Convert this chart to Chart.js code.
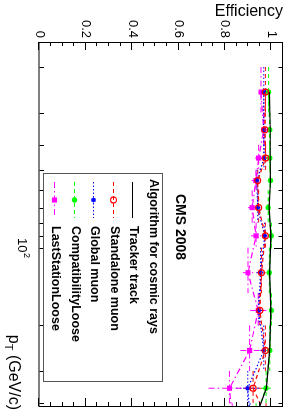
<!DOCTYPE html>
<html lang="en">
<head>
<meta charset="UTF-8">
<title>Efficiency vs pT</title>
<script src="https://cdn.jsdelivr.net/npm/chart.js"></script>
<style>
  html, body { margin: 0; padding: 0; background: #fff; overflow: hidden; }
  /* the ROOT canvas is drawn landscape and turned a quarter clockwise */
  #wrap { position: absolute; left: 0; top: 0; width: 415px; height: 298px;
          transform-origin: 0 0; transform: translateX(298px) rotate(90deg); }
</style>
</head>
<body>
<div id="wrap"><canvas id="effChart" width="415" height="298"></canvas></div>
<script>
// pT bins (GeV/c); the last bin lies just past the frame
const ptCenters = [25, 35, 45, 55, 70, 90, 125, 175, 250, 350, 450];
const ptLow     = [20, 30, 40, 50, 60, 80, 100, 150, 200, 300, 400];
const ptHigh    = [30, 40, 50, 60, 80, 100, 150, 200, 300, 400, 500];

const trackerEff    = [0.991, 0.995, 0.995, 0.996, 0.990, 0.998, 0.992, 0.998, 0.992, 0.978, 0.934];
const standaloneEff = [0.974, 0.972, 0.975, 0.941, 0.945, 0.974, 0.957, 0.950, 0.974, 0.921, 0.977];
const globalEff     = [0.967, 0.967, 0.968, 0.937, 0.941, 0.971, 0.953, 0.945, 0.967, 0.898, 0.908];
const compatEff     = [0.988, 0.993, 0.993, 0.996, 0.986, 1.000, 0.991, 1.000, 0.993, 0.977, 0.934];
const lastStEff     = [0.955, 0.967, 0.945, 0.933, 0.917, 0.934, 0.899, 0.943, 0.906, 0.819, 0.831];

const standaloneErr = [0.008, 0.010, 0.012, 0.015, 0.015, 0.012, 0.018, 0.020, 0.022, 0.040, 0.05];
const globalErr     = [0.008, 0.010, 0.012, 0.015, 0.015, 0.012, 0.018, 0.020, 0.025, 0.050, 0.06];
const compatErr     = [0.004, 0.005, 0.006, 0.006, 0.007, 0.004, 0.008, 0.005, 0.010, 0.020, 0.03];
const lastStErr     = [0.010, 0.012, 0.015, 0.018, 0.018, 0.022, 0.022, 0.035, 0.040, 0.090, 0.10];

const effTickLabels = ['0', '0.2', '0.4', '0.6', '0.8', '1'];
const ptMinorTicks  = [20, 30, 40, 50, 60, 70, 80, 90, 200, 300, 400];
const ptMajorTicks  = [100];

const FONT = "'Liberation Sans', Arial, Helvetica, sans-serif";

function pts(vals) {
    return vals.map((v, i) => ({ x: ptCenters[i], y: v }));
}

function drawMarker(ctx, style, x, y, r, color) {
    ctx.save();
    ctx.setLineDash([]);
    ctx.strokeStyle = color;
    ctx.fillStyle = color;
    ctx.lineWidth = 1.2;
    ctx.beginPath();
    if (style === 'rect') {
        const s = r * Math.SQRT1_2;
        ctx.fillRect(x - s, y - s, 2 * s, 2 * s);
    } else if (style === 'open') {
        ctx.arc(x, y, r, 0, Math.PI * 2);
        ctx.stroke();
    } else if (style === 'star') {
        ctx.moveTo(x - r, y); ctx.lineTo(x + r, y);
        ctx.moveTo(x, y - r); ctx.lineTo(x, y + r);
        const d = r * Math.SQRT1_2;
        ctx.moveTo(x - d, y - d); ctx.lineTo(x + d, y + d);
        ctx.moveTo(x - d, y + d); ctx.lineTo(x + d, y - d);
        ctx.stroke();
    } else if (style === 'circle') {
        ctx.arc(x, y, r, 0, Math.PI * 2);
        ctx.fill();
    }
    ctx.restore();
}

// error bars: bin width along pT, statistical error along efficiency
const errorBars = {
    id: 'errorBars',
    beforeDatasetsDraw(chart) {
        const { ctx, chartArea, scales } = chart;
        ctx.save();
        ctx.beginPath();
        ctx.rect(chartArea.left, chartArea.top, chartArea.right - chartArea.left, chartArea.bottom - chartArea.top);
        ctx.clip();
        chart.data.datasets.forEach(ds => {
            if (!ds.errors) return;
            ctx.strokeStyle = ds.borderColor;
            ctx.lineWidth = 1;
            ctx.setLineDash(ds.borderDash || []);
            ds.data.forEach((p, i) => {
                const px = scales.x.getPixelForValue(p.x);
                const py = scales.y.getPixelForValue(p.y);
                const xl = scales.x.getPixelForValue(ptLow[i]);
                const xh = scales.x.getPixelForValue(ptHigh[i]);
                const yl = scales.y.getPixelForValue(p.y - ds.errors[i]);
                const yh = scales.y.getPixelForValue(Math.min(1, p.y + ds.errors[i]));
                ctx.beginPath();
                ctx.moveTo(xl, py); ctx.lineTo(xh, py);
                ctx.moveTo(px, yl); ctx.lineTo(px, yh);
                ctx.stroke();
            });
        });
        ctx.restore();
    }
};

// ROOT style frame, inner ticks, labels, legend and header
const rootFrame = {
    id: 'rootFrame',
    afterDraw(chart) {
        const { ctx, chartArea: a, scales } = chart;
        ctx.save();
        ctx.strokeStyle = '#000';
        ctx.lineWidth = 1;
        ctx.setLineDash([]);
        ctx.strokeRect(a.left + 0.5, a.top + 0.5, a.right - a.left, a.bottom - a.top);

        ctx.beginPath();
        for (let i = 0; i <= 21; i++) {
            const v = i * 0.05;
            const y = Math.round(scales.y.getPixelForValue(v)) + 0.5;
            const len = i % 4 === 0 ? 8 : 4;
            ctx.moveTo(a.left, y); ctx.lineTo(a.left + len, y);
            ctx.moveTo(a.right, y); ctx.lineTo(a.right - len, y);
        }
        ptMinorTicks.concat(ptMajorTicks).forEach(t => {
            const x = Math.round(scales.x.getPixelForValue(t)) + 0.5;
            const len = ptMajorTicks.includes(t) ? 9 : 4.5;
            ctx.moveTo(x, a.bottom); ctx.lineTo(x, a.bottom - len);
            ctx.moveTo(x, a.top); ctx.lineTo(x, a.top + len);
        });
        ctx.stroke();

        // efficiency labels
        ctx.fillStyle = '#000';
        ctx.font = '13px ' + FONT;
        ctx.textAlign = 'right';
        ctx.textBaseline = 'middle';
        effTickLabels.forEach((lab, i) => {
            ctx.fillText(lab, a.left - 4, scales.y.getPixelForValue(i * 0.2));
        });

        // 10^2 label
        const x100 = scales.x.getPixelForValue(100);
        ctx.textBaseline = 'alphabetic';
        ctx.textAlign = 'left';
        ctx.font = '13px ' + FONT;
        const w10 = ctx.measureText('10').width;
        ctx.font = '9px ' + FONT;
        const w2 = ctx.measureText('2').width;
        const x0 = x100 - (w10 + w2) / 2;
        ctx.font = '13px ' + FONT;
        ctx.fillText('10', x0, 280);
        ctx.font = '9px ' + FONT;
        ctx.fillText('2', x0 + w10 + 0.5, 274);

        // axis titles
        ctx.font = '16px ' + FONT;
        const wTail = ctx.measureText(' (GeV/c)').width;
        const wp = ctx.measureText('p').width;
        ctx.font = '11px ' + FONT;
        const wT = ctx.measureText('T').width;
        let tx = 410 - wTail - wT - wp;
        ctx.font = '16px ' + FONT;
        ctx.fillText('p', tx, 289);
        ctx.font = '11px ' + FONT;
        ctx.fillText('T', tx + wp, 293);
        ctx.font = '16px ' + FONT;
        ctx.fillText(' (GeV/c)', tx + wp + wT, 289);

        ctx.save();
        ctx.translate(15.5, a.top);
        ctx.rotate(-Math.PI / 2);
        ctx.textAlign = 'right';
        ctx.fillText('Efficiency', 0, 0);
        ctx.restore();

        // header
        ctx.font = 'bold 14px ' + FONT;
        ctx.textAlign = 'center';
        ctx.textBaseline = 'middle';
        ctx.fillText('CMS 2008', 227, 118);

        // legend box
        ctx.fillStyle = '#fff';
        ctx.fillRect(173, 135, 208, 119);
        ctx.strokeStyle = '#555';
        ctx.strokeRect(173.5, 135.5, 208, 119);
        ctx.fillStyle = '#000';
        ctx.textAlign = 'left';
        ctx.font = 'bold 12.5px ' + FONT;
        ctx.fillText('Algorithm for cosmic rays', 179, 145);
        const rows = [164.5, 184, 203.5, 223, 242.5];
        chart.data.datasets.forEach((ds, i) => {
            const y = Math.round(rows[i]) + 0.5;
            ctx.strokeStyle = ds.borderColor;
            ctx.lineWidth = 1;
            ctx.setLineDash(ds.borderDash || []);
            ctx.beginPath();
            ctx.moveTo(182, y); ctx.lineTo(218, y);
            ctx.stroke();
            ctx.setLineDash([]);
            if (ds.legendMarker) drawMarker(ctx, ds.legendMarker, 200, y, ds.pointRadius, ds.borderColor);
            ctx.fillStyle = '#000';
            ctx.fillText(ds.label, 226, rows[i]);
        });
        ctx.restore();
    }
};

new Chart(document.getElementById('effChart').getContext('2d'), {
    type: 'line',
    data: {
        datasets: [
            {
                label: 'Tracker track',
                data: pts(trackerEff),
                borderColor: '#000000',
                borderWidth: 1.2,
                pointRadius: 0
            },
            {
                label: 'Standalone muon',
                data: pts(standaloneEff),
                errors: standaloneErr,
                legendMarker: 'open',
                borderColor: '#ff0000',
                borderWidth: 1.2,
                borderDash: [4, 3],
                pointStyle: 'circle',
                pointRadius: 3,
                pointBorderWidth: 1.2,
                pointBorderColor: '#ff0000',
                pointBackgroundColor: 'rgba(0,0,0,0)'
            },
            {
                label: 'Global muon',
                data: pts(globalEff),
                errors: globalErr,
                legendMarker: 'star',
                borderColor: '#0000ff',
                borderWidth: 1.2,
                borderDash: [1.5, 2],
                pointStyle: 'star',
                pointRadius: 2.5,
                pointBorderWidth: 1.2,
                pointBorderColor: '#0000ff',
                pointBackgroundColor: '#0000ff'
            },
            {
                label: 'CompatibilityLoose',
                data: pts(compatEff),
                errors: compatErr,
                legendMarker: 'circle',
                borderColor: '#00ff00',
                borderWidth: 1.2,
                borderDash: [4, 3],
                pointStyle: 'circle',
                pointRadius: 2.7,
                pointBorderWidth: 0,
                pointBackgroundColor: '#00ff00'
            },
            {
                label: 'LastStationLoose',
                data: pts(lastStEff),
                errors: lastStErr,
                legendMarker: 'rect',
                borderColor: '#ff00ff',
                borderWidth: 1.2,
                borderDash: [6, 3, 1.5, 3],
                pointStyle: 'rect',
                pointRadius: 3.6,
                pointBorderWidth: 0,
                pointBackgroundColor: '#ff00ff'
            }
        ]
    },
    options: {
        responsive: false,
        animation: false,
        devicePixelRatio: 1,
        layout: { padding: { left: 42, right: 9, top: 15, bottom: 39.5 } },
        elements: { line: { tension: 0 } },
        plugins: { legend: { display: false }, tooltip: { enabled: false } },
        scales: {
            x: { type: 'logarithmic', min: 16, max: 410, display: false },
            y: { type: 'linear', min: 0, max: 1.05, display: false }
        }
    },
    plugins: [errorBars, rootFrame]
});
</script>
</body>
</html>
